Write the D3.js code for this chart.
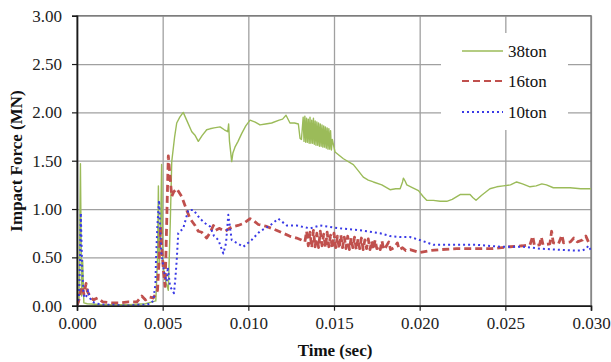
<!DOCTYPE html>
<html>
<head>
<meta charset="utf-8">
<script src="https://cdn.jsdelivr.net/npm/d3@7"></script>
<style>
	body { margin: 0; background: #fff; }
	svg, svg text { font-family: "Liberation Serif", "Times New Roman", serif; }
</style>
</head>
<body>
<div id="chart"></div>
<script>
// time in ms, force in MN
var series38ton = [
	[0, 0], [0.12, 0.04], [0.2, 1.47], [0.27, 0.1], [0.33, 0.47], [0.4, 0.03], [0.6, 0.02],
	[1.5, 0.01], [3.0, 0.01], [4.0, 0.02], [4.6, 0.05], [4.7, 0.5], [4.75, 1.24], [4.8, 0.4],
	[4.88, 0.8], [4.94, 1.46], [5.0, 0.5], [5.1, 0.3], [5.33, 0.16], [5.45, 0.9], [5.53, 1.49],
	[5.7, 1.75], [5.82, 1.89], [6.0, 1.95], [6.2, 2.0], [6.4, 1.92], [6.7, 1.80], [6.9, 1.76],
	[7.08, 1.70], [7.3, 1.76], [7.57, 1.82], [7.76, 1.83], [8.0, 1.84], [8.35, 1.85], [8.6, 1.82],
	[8.8, 1.80], [8.85, 1.88], [8.9, 1.7], [9.03, 1.49], [9.1, 1.58], [9.22, 1.64], [9.4, 1.70],
	[9.61, 1.78], [9.85, 1.86], [10.1, 1.92], [10.4, 1.90], [10.68, 1.87], [11.0, 1.88],
	[11.36, 1.89], [11.8, 1.92], [12.0, 1.93], [12.2, 1.97], [12.43, 1.89], [12.7, 1.89],
	[12.92, 1.88], [13.02, 1.73], [13.1, 1.72],
	[13.2, 1.95], [13.25, 1.70], [13.3, 1.96], [13.35, 1.69], [13.4, 1.94], [13.45, 1.69],
	[13.5, 1.93], [13.55, 1.68], [13.6, 1.95], [13.65, 1.68], [13.7, 1.92], [13.75, 1.68],
	[13.8, 1.94], [13.85, 1.67], [13.9, 1.91], [13.95, 1.66], [14.0, 1.90], [14.05, 1.66],
	[14.1, 1.89], [14.15, 1.65], [14.2, 1.88], [14.25, 1.65], [14.3, 1.87], [14.35, 1.64],
	[14.4, 1.86], [14.45, 1.64], [14.5, 1.85], [14.55, 1.63], [14.6, 1.84], [14.65, 1.62],
	[14.7, 1.83], [14.75, 1.62], [14.8, 1.81], [14.85, 1.61], [14.9, 1.72],
	[15.06, 1.59], [15.55, 1.52], [16.13, 1.46], [16.4, 1.40], [16.71, 1.33], [17.0, 1.30],
	[17.3, 1.28], [17.79, 1.25], [18.27, 1.20], [18.6, 1.21], [18.86, 1.21], [19.0, 1.28],
	[19.05, 1.32], [19.15, 1.29], [19.25, 1.25], [19.6, 1.22], [19.93, 1.19], [20.2, 1.13],
	[20.41, 1.09], [20.8, 1.09], [21.2, 1.08], [21.58, 1.08], [21.9, 1.10], [22.36, 1.15],
	[22.94, 1.15], [23.1, 1.12], [23.29, 1.09], [23.6, 1.14], [24.1, 1.21], [24.5, 1.23],
	[24.88, 1.24], [25.3, 1.25], [25.66, 1.28], [26.0, 1.26], [26.44, 1.23], [26.8, 1.24],
	[27.13, 1.26], [27.4, 1.25], [27.8, 1.22], [28.3, 1.22], [28.78, 1.22], [29.4, 1.21], [30.0, 1.21]
];

var series16ton = [
	[0, 0], [0.1, 0.05], [0.18, 0.13], [0.3, 0.2], [0.4, 0.12], [0.53, 0.23], [0.6, 0.15],
	[0.75, 0.1], [0.95, 0.06], [1.2, 0.08], [1.5, 0.04], [2.0, 0.03], [2.5, 0.03], [3.0, 0.04],
	[3.5, 0.04], [3.78, 0.1], [4.0, 0.06], [4.2, 0.09], [4.45, 0.08], [4.6, 0.12], [4.7, 0.16],
	[4.8, 0.5], [4.88, 0.82], [4.95, 0.6], [5.05, 0.35], [5.14, 0.2], [5.2, 0.6], [5.28, 1.2],
	[5.33, 1.55], [5.4, 1.4], [5.53, 1.13], [5.65, 1.18], [5.82, 1.21], [6.11, 1.13], [6.4, 0.99],
	[6.6, 0.9], [6.89, 0.83], [7.08, 0.77], [7.28, 0.76], [7.57, 0.70], [7.75, 0.75], [7.96, 0.83],
	[8.1, 0.78], [8.3, 0.80], [8.64, 0.77], [8.9, 0.80], [9.13, 0.82], [9.4, 0.83], [9.71, 0.85],
	[10.1, 0.90], [10.3, 0.88], [10.58, 0.84], [11.07, 0.82], [11.5, 0.79], [12.04, 0.75],
	[12.4, 0.72], [12.82, 0.70], [13.1, 0.68], [13.3, 0.66],
	[13.4, 0.77], [13.5, 0.62], [13.6, 0.76], [13.7, 0.60], [13.8, 0.78], [13.9, 0.61],
	[14.0, 0.75], [14.1, 0.60], [14.2, 0.77], [14.3, 0.62], [14.4, 0.74], [14.5, 0.60],
	[14.6, 0.76], [14.7, 0.61], [14.8, 0.73], [14.9, 0.59], [15.0, 0.75], [15.1, 0.60],
	[15.2, 0.72], [15.3, 0.59], [15.4, 0.73], [15.5, 0.60], [15.6, 0.71], [15.7, 0.59],
	[15.8, 0.72], [15.9, 0.58], [16.0, 0.70], [16.1, 0.60], [16.2, 0.71], [16.3, 0.58],
	[16.4, 0.69], [16.5, 0.59], [16.6, 0.70], [16.7, 0.58], [16.8, 0.68], [16.9, 0.59],
	[17.0, 0.69], [17.1, 0.58], [17.2, 0.67], [17.3, 0.58], [17.4, 0.68], [17.5, 0.59],
	[17.6, 0.62], [17.7, 0.58], [17.8, 0.67], [17.9, 0.58], [18.0, 0.60], [18.2, 0.66],
	[18.3, 0.58], [18.5, 0.60], [18.7, 0.65], [18.8, 0.58], [19.0, 0.60], [19.2, 0.57],
	[19.44, 0.58], [20.0, 0.55], [20.6, 0.57], [21.2, 0.58], [22.16, 0.59], [23.2, 0.59],
	[24.2, 0.59], [25.27, 0.61], [26.0, 0.62], [26.44, 0.63], [26.6, 0.72], [26.7, 0.62],
	[27.0, 0.63], [27.1, 0.71], [27.2, 0.63], [27.6, 0.64], [27.7, 0.77], [27.8, 0.65],
	[28.1, 0.64], [28.3, 0.73], [28.4, 0.65], [28.8, 0.66], [29.0, 0.70], [29.2, 0.66],
	[29.5, 0.68], [29.7, 0.72], [29.85, 0.66], [30.0, 0.69]
];

var series10ton = [
	[0, 0], [0.12, 0.1], [0.18, 0.5], [0.22, 0.96], [0.3, 0.4], [0.38, 0.12], [0.45, 0.08],
	[0.55, 0.1], [0.65, 0.16], [0.75, 0.08], [0.9, 0.04], [1.2, 0.02], [1.6, 0.01], [2.2, 0.01],
	[2.86, 0.0], [3.5, 0.01], [4.0, 0.01], [4.26, 0.02], [4.45, 0.05], [4.58, 0.23], [4.61, 0.47],
	[4.69, 0.82], [4.79, 1.09], [4.85, 0.8], [4.92, 0.55], [5.04, 0.40], [5.14, 0.3], [5.24, 0.25],
	[5.3, 0.40], [5.43, 0.20], [5.66, 0.13], [5.75, 0.3], [5.82, 0.47], [5.91, 0.75], [6.2, 0.80],
	[6.5, 0.99], [6.8, 0.99], [7.18, 0.90], [7.5, 0.85], [7.76, 0.82], [8.0, 0.72], [8.25, 0.68],
	[8.54, 0.54], [8.7, 0.65], [8.83, 0.94], [9.03, 0.68], [9.32, 0.65], [9.71, 0.61],
	[10.19, 0.68], [10.68, 0.77], [11.27, 0.83], [11.75, 0.90], [12.24, 0.83], [12.8, 0.83],
	[13.6, 0.80], [14.18, 0.83], [15.35, 0.80], [16.52, 0.78], [17.69, 0.75], [18.27, 0.72],
	[18.86, 0.71], [19.44, 0.71], [20.0, 0.68], [20.8, 0.63], [21.97, 0.63], [23.3, 0.63],
	[24.69, 0.61], [26.05, 0.61], [27.03, 0.59], [28.0, 0.58], [29.17, 0.57], [29.5, 0.57],
	[29.7, 0.59], [29.85, 0.62], [30.0, 0.57]
];

var seriesNames = ["38ton", "16ton", "10ton"];
var xTicks = [0, 0.005, 0.010, 0.015, 0.020, 0.025, 0.030];
var yTicks = [0, 0.5, 1.0, 1.5, 2.0, 2.5, 3.0];

var seriesStyles = [
	{ color: "#9bbb59", width: 1.4, dash: null },
	{ color: "#c0504d", width: 2.8, dash: "7,4" },
	{ color: "#3a3ae6", width: 2, dash: "2,3" }
];

function drawChart(div) {
	var width = 611, height = 362;
	var left = 77, right = 591, top = 15.7, bottom = 305.7;
	var serif = "'Liberation Serif', 'Times New Roman', serif";

	var svg = d3.select("#" + div).append("svg")
		.attr("width", width).attr("height", height);

	var x = d3.scaleLinear().domain([0, 0.030]).range([left, right]);
	var y = d3.scaleLinear().domain([0, 3.0]).range([bottom, top]);

	// grid
	svg.append("g").attr("transform", "translate(0," + bottom + ")")
		.call(d3.axisBottom(x).tickValues(xTicks).tickSize(-(bottom - top)).tickFormat(""))
		.call(function (g) { g.select(".domain").remove(); })
		.selectAll("line").attr("stroke", "#a0a0a0").attr("stroke-width", 1.3);
	svg.append("g").attr("transform", "translate(" + left + ",0)")
		.call(d3.axisLeft(y).tickValues(yTicks).tickSize(-(right - left)).tickFormat(""))
		.call(function (g) { g.select(".domain").remove(); })
		.selectAll("line").attr("stroke", "#a0a0a0").attr("stroke-width", 1.3);

	svg.append("rect").attr("x", left).attr("y", top)
		.attr("width", right - left).attr("height", bottom - top)
		.attr("fill", "none").attr("stroke", "#7a7a7a").attr("stroke-width", 1.3);

	// lines
	svg.append("clipPath").attr("id", "plotClip").append("rect")
		.attr("x", left).attr("y", top - 2).attr("width", right - left).attr("height", bottom - top + 2);

	var line = d3.line()
		.x(function (d) { return x(d[0] / 1000); })
		.y(function (d) { return y(d[1]); });

	var allSeries = [series38ton, series16ton, series10ton];
	var plot = svg.append("g").attr("clip-path", "url(#plotClip)");
	for (var i = 0; i < allSeries.length; i++) {
		plot.append("path").datum(allSeries[i])
			.attr("d", line).attr("fill", "none")
			.attr("stroke", seriesStyles[i].color)
			.attr("stroke-width", seriesStyles[i].width)
			.attr("stroke-dasharray", seriesStyles[i].dash)
			.attr("stroke-linejoin", "round");
	}

	// axes
	var xAxis = svg.append("g").attr("transform", "translate(0," + bottom + ")")
		.call(d3.axisBottom(x).tickValues(xTicks).tickSize(5).tickPadding(6).tickFormat(d3.format(".3f")));
	var yAxis = svg.append("g").attr("transform", "translate(" + left + ",0)")
		.call(d3.axisLeft(y).tickValues(yTicks).tickSize(5).tickPadding(10).tickFormat(d3.format(".2f")));
	[xAxis, yAxis].forEach(function (g) {
		g.attr("font-family", serif).attr("font-size", 17);
		g.select(".domain").attr("stroke", "#1a1a1a").attr("stroke-width", 1.6);
		g.selectAll(".tick line").attr("stroke", "#1a1a1a").attr("stroke-width", 1.2);
		g.selectAll("text").style("font-family", serif)
			.style("font-size", "17px").attr("fill", "#222");
	});

	// axis titles
	svg.append("text").attr("x", 335).attr("y", 356)
		.attr("text-anchor", "middle").style("font-family", serif).style("font-size", "17px")
		.attr("font-weight", "bold").attr("fill", "#111").text("Time (sec)");
	svg.append("text").attr("transform", "translate(22,161) rotate(-90)")
		.attr("text-anchor", "middle").style("font-family", serif).style("font-size", "17px")
		.attr("font-weight", "bold").attr("fill", "#111").text("Impact Force (MN)");

	// legend
	var legend = svg.append("g");
	legend.append("rect").attr("x", 441).attr("y", 33).attr("width", 127).attr("height", 97)
		.attr("fill", "#fff");
	var legendY = [51, 81, 112];
	for (var j = 0; j < seriesNames.length; j++) {
		legend.append("line").attr("x1", 462).attr("x2", 503)
			.attr("y1", legendY[j]).attr("y2", legendY[j])
			.attr("stroke", seriesStyles[j].color)
			.attr("stroke-width", j == 0 ? 1.5 : 2)
			.attr("stroke-dasharray", seriesStyles[j].dash);
		legend.append("text").attr("x", 508).attr("y", legendY[j] + 6)
			.style("font-family", serif).style("font-size", "17px")
			.attr("fill", "#111").text(seriesNames[j]);
	}
}

drawChart("chart");
</script>
</body>
</html>
